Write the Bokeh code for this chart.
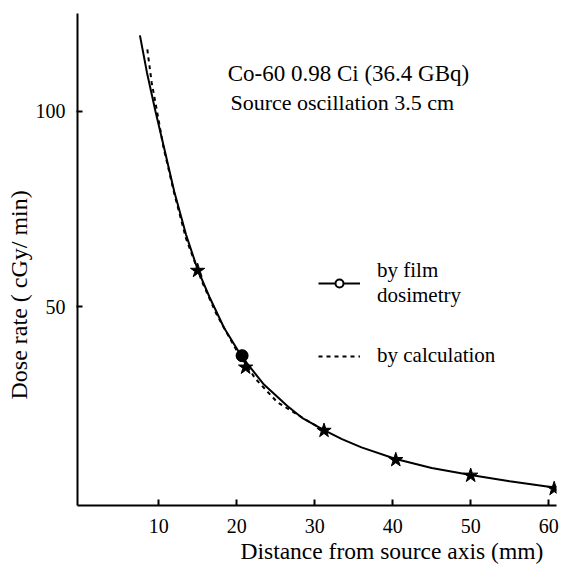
from bokeh.plotting import figure
from bokeh.models import Range1d, Label, Legend, LegendItem, Title
from bokeh.embed import file_html
from bokeh.resources import INLINE

# ---- data ----
film_x = [7.6, 8.5, 9.6, 10.6, 12.0, 13.5, 15.0, 16.5, 18.4, 20.7, 23.5, 26.5, 28.5, 31.2, 33.5, 36.0, 40.4, 45.0, 50.0, 55.0, 60.7]
film_y = [119.5, 110.0, 100.0, 91.5, 79.5, 68.5, 59.5, 52.5, 44.5, 37.0, 30.0, 24.5, 21.3, 18.3, 16.0, 13.9, 10.9, 8.6, 6.8, 5.2, 3.6]

calc_x = [8.55, 9.1, 9.8, 10.6, 12.0, 13.5, 15.6, 17.4, 19.9, 22.4, 25.2, 28.6, 31.2]
calc_y = [115.9, 107.5, 100.0, 91.0, 79.0, 67.5, 56.2, 48.1, 39.1, 31.5, 25.5, 21.3, 18.2]

star_x = [15.0, 21.15, 31.2, 40.4, 50.0, 60.7]
star_y = [59.2, 34.4, 18.2, 10.7, 6.7, 3.3]

dot_x = [20.7]
dot_y = [37.4]

x_ticks = [10, 20, 30, 40, 50, 60]
y_ticks = [50, 100]

title_1 = "Co-60 0.98 Ci (36.4 GBq)"
title_2 = "Source oscillation 3.5 cm"
x_label = "Distance from source axis (mm)"
y_label = "Dose rate ( cGy/ min)"
legend_1 = "by film\ndosimetry"
legend_2 = "by calculation"

FONT = "Liberation Serif"

p = figure(width=561, height=564,
           x_range=Range1d(-0.4, 61.0), y_range=Range1d(-1.0, 125.1),
           output_backend="svg", toolbar_location=None,
           min_border_left=77, min_border_right=5,
           min_border_top=13, min_border_bottom=59)

p.grid.visible = False
p.outline_line_color = None
p.background_fill_color = "white"

for ax in (p.xaxis, p.yaxis):
    ax.axis_line_width = 2
    ax.axis_line_color = "black"
    ax.major_tick_line_width = 2
    ax.major_tick_line_color = "black"
    ax.minor_tick_line_color = None
    ax.major_label_text_font = FONT
    ax.major_label_text_font_size = "20px"
    ax.major_label_text_color = "black"

p.xaxis.ticker = x_ticks
p.yaxis.ticker = y_ticks
p.xaxis.major_tick_in = 6
p.xaxis.major_tick_out = 0
p.yaxis.major_tick_in = 5
p.yaxis.major_tick_out = 1
p.xaxis.major_label_standoff = 13
p.yaxis.major_label_standoff = 11

# open circle used for the legend sample (hidden under the filled dot)
leg_circle = p.scatter(dot_x, dot_y, marker="circle", size=10, fill_color="white",
                       line_color="black", line_width=2)
film_line = p.line(film_x, film_y, line_width=2, color="black")
calc_line = p.line(calc_x, calc_y, line_width=2, color="black", line_dash="4 4")
p.scatter(star_x, star_y, marker="star", size=15, color="black")
p.scatter(dot_x, dot_y, marker="circle", size=12, color="black")

legend = Legend(items=[LegendItem(label=legend_1, renderers=[film_line, leg_circle]),
                       LegendItem(label=legend_2, renderers=[calc_line])],
                location=(241, 137), glyph_width=42, glyph_height=20,
                label_standoff=17, spacing=35, padding=0, margin=0,
                border_line_color=None, background_fill_alpha=0,
                label_text_font=FONT, label_text_font_size="21px",
                label_text_line_height=1.1,
                label_text_color="black")
p.add_layout(legend)

p.add_layout(Label(x=18.85, y=109.7, text=title_1, text_font=FONT,
                   text_font_size="23px", text_color="black", text_baseline="alphabetic"))
p.add_layout(Label(x=19.2, y=102.4, text=title_2, text_font=FONT,
                   text_font_size="22px", text_color="black", text_baseline="alphabetic"))

p.add_layout(Title(text=x_label, align="left", offset=163, text_font=FONT,
                   text_font_size="23.5px", text_font_style="normal",
                   text_color="black", standoff=1), "below")
p.add_layout(Title(text=y_label, align="left", offset=106, text_font=FONT,
                   text_font_size="24px", text_font_style="normal",
                   text_color="black", standoff=2), "left")

open("out.html", "w").write(file_html(p, INLINE))
